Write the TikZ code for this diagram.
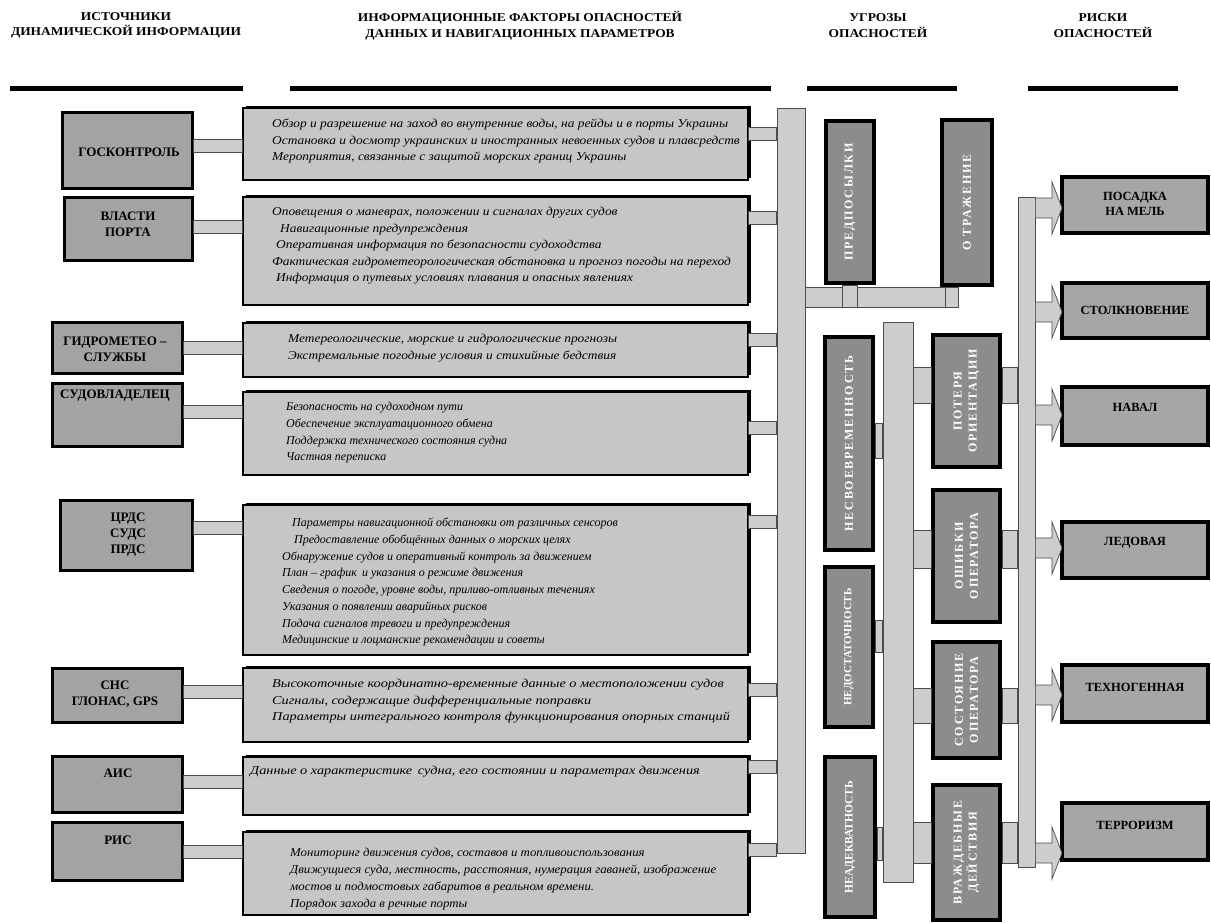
\documentclass[tikz,border=0pt]{standalone}
\usepackage{fontspec}
\setmainfont{Liberation Serif}
\newfontfamily\hdrfont{Liberation Serif}[FakeStretch=1.12]
\newfontfamily\midfont{Liberation Serif}[FakeStretch=1.115]
\newfontfamily\midfontn{Liberation Serif}[FakeStretch=1.0]
\newfontfamily\midfontm{Liberation Serif}[FakeStretch=1.07]
\newfontfamily\midfontw{Liberation Serif}[FakeStretch=1.19]
\newfontfamily\thrfont{Liberation Serif}[LetterSpace=15]
\usetikzlibrary{calc,shadows}
\definecolor{srcgray}{HTML}{A3A3A3}
\definecolor{midgray}{HTML}{C6C6C6}
\definecolor{pipegray}{HTML}{CDCDCD}
\definecolor{thrgray}{HTML}{8C8C8C}
\definecolor{riskgray}{HTML}{A6A6A6}
\begin{document}
\begin{tikzpicture}[x=1pt,y=-1pt,
  hdrline/.style={line width=5pt,black},
  hdrtext/.style={font=\hdrfont\bfseries\fontsize{12}{15.5}\selectfont,align=center,inner sep=0},
  srcbox/.style={draw=black,line width=3pt,fill=srcgray,inner sep=0},
  midbox/.style={draw=black,line width=1.5pt,fill=midgray,inner sep=0,
    drop shadow={shadow xshift=2.5pt,shadow yshift=2.5pt,opacity=1,fill=black}},
  thrbox/.style={draw=black,line width=4pt,fill=thrgray,inner sep=0},
  riskbox/.style={draw=black,line width=3.5pt,fill=riskgray,inner sep=0},
  pipe/.style={fill=pipegray,draw=black!70,line width=0.7pt},
  srclabel/.style={font=\bfseries\fontsize{13}{16}\selectfont,align=center,inner sep=0},
  midtext/.style={font=\midfont\itshape\fontsize{12}{16.5}\selectfont,align=left,anchor=north west,inner sep=0},
  thrtext/.style={font=\thrfont\bfseries\fontsize{12}{15}\selectfont,text=white,rotate=90,align=center,inner sep=0},
  risktext/.style={font=\bfseries\fontsize{12.5}{15}\selectfont,align=center,inner sep=0}
]
\useasboundingbox[fill=white] (0,0) rectangle (1211,922);

% ---------- headers ----------
\node[hdrtext] (h1) at (126,25.5) {ИСТОЧНИКИ\\ДИНАМИЧЕСКОЙ ИНФОРМАЦИИ};
\node[hdrtext] (h2) at (520,25.5) {ИНФОРМАЦИОННЫЕ ФАКТОРЫ ОПАСНОСТЕЙ\\ДАННЫХ И НАВИГАЦИОННЫХ ПАРАМЕТРОВ};
\node[hdrtext] (h3) at (878,25.5) {УГРОЗЫ\\ОПАСНОСТЕЙ};
\node[hdrtext] (h4) at (1103,25.5) {РИСКИ\\ОПАСНОСТЕЙ};
\draw[hdrline] (10,88) -- (243,88);
\draw[hdrline] (290,88) -- (771,88);
\draw[hdrline] (807,88) -- (957,88);
\draw[hdrline] (1028,88) -- (1178,88);

% ---------- buses (drawn first) ----------
\node[pipe,minimum width=28,minimum height=745,inner sep=0] (bus) at (791,480.5) {};
\node[pipe,minimum width=30,minimum height=560,inner sep=0] (mbus) at (898,602) {};
\node[pipe,minimum width=17,minimum height=670,inner sep=0] (rbus) at (1026.5,532) {};

% ---------- source boxes ----------
\node[srcbox,minimum width=130,minimum height=76] (s1) at (127,150) {};
\node[srcbox,minimum width=128,minimum height=63] (s2) at (128,228.5) {};
\node[srcbox,minimum width=130,minimum height=51] (s3) at (117,347.5) {};
\node[srcbox,minimum width=130,minimum height=63] (s4) at (117,414.5) {};
\node[srcbox,minimum width=132,minimum height=70] (s5) at (126,535) {};
\node[srcbox,minimum width=130,minimum height=54] (s6) at (117,695) {};
\node[srcbox,minimum width=130,minimum height=56] (s7) at (117,784) {};
\node[srcbox,minimum width=130,minimum height=58] (s8) at (117,851) {};

\node[srclabel] (l1) at (129,152) {ГОСКОНТРОЛЬ};
\node[srclabel] (l2) at (128,224) {ВЛАСТИ\\ПОРТА};
\node[srclabel] (l3) at (115,349) {ГИДРОМЕТЕО –\\СЛУЖБЫ};
\node[srclabel] (l4) at (115,396) {СУДОВЛАДЕЛЕЦ};
\node[srclabel] (l5) at (128,535) {ЦРДС\\СУДС\\ПРДС};
\node[srclabel] (l6) at (115,694) {СНС\\ГЛОНАС, GPS};
\node[srclabel] (l7) at (118,773) {АИС};
\node[srclabel] (l8) at (118,840) {РИС};

% ---------- middle boxes ----------
\node[midbox,minimum width=505,minimum height=72] (m1) at (495.5,144) {};
\node[midbox,minimum width=505,minimum height=108] (m2) at (495.5,251) {};
\node[midbox,minimum width=505,minimum height=54] (m3) at (495.5,350) {};
\node[midbox,minimum width=505,minimum height=83] (m4) at (495.5,433.5) {};
\node[midbox,minimum width=505,minimum height=150] (m5) at (495.5,580) {};
\node[midbox,minimum width=505,minimum height=74] (m6) at (495.5,705) {};
\node[midbox,minimum width=505,minimum height=58] (m7) at (495.5,786) {};
\node[midbox,minimum width=505,minimum height=83] (m8) at (495.5,873.5) {};

\node[midtext] (t1) at (272,119) {Обзор и разрешение на заход во внутренние воды, на рейды и в порты Украины\\
Остановка и досмотр украинских и иностранных невоенных судов и плавсредств\\
Мероприятия, связанные с защитой морских границ Украины};
\node[midtext] (t2) at (272,207) {Оповещения о маневрах, положении и сигналах других судов\\
\hspace*{8pt}Навигационные предупреждения\\
\hspace*{4pt}Оперативная информация по безопасности судоходства\\
Фактическая гидрометеорологическая обстановка и прогноз погоды на переход\\
\hspace*{4pt}Информация о путевых условиях плавания и опасных явлениях};
\node[midtext] (t3) at (288,334) {Метереологические, морские и гидрологические прогнозы\\
Экстремальные погодные условия и стихийные бедствия};
\node[midtext,font=\midfontn\itshape\fontsize{12}{16.8}\selectfont] (t4) at (286,402) {Безопасность на судоходном пути\\
Обеспечение эксплуатационного обмена\\
Поддержка технического состояния судна\\
Частная переписка};
\node[midtext,font=\midfontn\itshape\fontsize{12}{16.7}\selectfont] (t5) at (282,518) {\hspace*{10pt}Параметры навигационной обстановки от различных сенсоров\\
\hspace*{12pt}Предоставление обобщённых данных о морских целях\\
Обнаружение судов и оперативный контроль за движением\\
План – график\, и указания о режиме движения\\
Сведения о погоде, уровне воды, приливо-отливных течениях\\
Указания о появлении аварийных рисков\\
Подача сигналов тревоги и предупреждения\\
Медицинские и лоцманские рекомендации и советы};
\node[midtext,font=\midfontw\itshape\fontsize{12}{16.5}\selectfont] (t6) at (272,679) {Высокоточные координатно-временные данные о местоположении судов\\
Сигналы, содержащие дифференциальные поправки\\
Параметры интегрального контроля функционирования опорных станций};
\node[midtext,font=\midfontw\itshape\fontsize{12}{16.5}\selectfont] (t7) at (250,766) {Данные о характеристике\, судна, его состоянии и параметрах движения};
\node[midtext,font=\midfontm\itshape\fontsize{12}{17}\selectfont] (t8) at (290,848) {Мониторинг движения судов, составов и топливоиспользования\\
Движущиеся суда, местность, расстояния, нумерация гаваней, изображение\\
мостов и подмостовых габаритов в реальном времени.\\
Порядок захода в речные порты};

% ---------- source -> middle connectors ----------
\draw[pipe] (s1.east |- 0,139.5) rectangle (m1.west |- 0,152.5);
\draw[pipe] (s2.east |- 0,220.5) rectangle (m2.west |- 0,233.5);
\draw[pipe] (s3.east |- 0,341.5) rectangle (m3.west |- 0,354.5);
\draw[pipe] (s4.east |- 0,405.5) rectangle (m4.west |- 0,418.5);
\draw[pipe] (s5.east |- 0,521.5) rectangle (m5.west |- 0,534.5);
\draw[pipe] (s6.east |- 0,685.5) rectangle (m6.west |- 0,698.5);
\draw[pipe] (s7.east |- 0,775.5) rectangle (m7.west |- 0,788.5);
\draw[pipe] (s8.east |- 0,845.5) rectangle (m8.west |- 0,858.5);

% ---------- middle -> bus connectors ----------
\draw[pipe] (m1.east |- 0,127.5) rectangle (bus.west |- 0,140.5);
\draw[pipe] (m2.east |- 0,211.5) rectangle (bus.west |- 0,224.5);
\draw[pipe] (m3.east |- 0,333.5) rectangle (bus.west |- 0,346.5);
\draw[pipe] (m4.east |- 0,421.5) rectangle (bus.west |- 0,434.5);
\draw[pipe] (m5.east |- 0,515.5) rectangle (bus.west |- 0,528.5);
\draw[pipe] (m6.east |- 0,683.5) rectangle (bus.west |- 0,696.5);
\draw[pipe] (m7.east |- 0,760.5) rectangle (bus.west |- 0,773.5);
\draw[pipe] (m8.east |- 0,843.5) rectangle (bus.west |- 0,856.5);

% ---------- threat boxes ----------
\node[thrbox,minimum width=48,minimum height=162] (pred) at (850,202) {};
\node[thrbox,minimum width=50,minimum height=165] (otr) at (967,202.5) {};
\node[thrbox,minimum width=48,minimum height=213] (nesv) at (849,443.5) {};
\node[thrbox,minimum width=48,minimum height=160] (nedo) at (849,647) {};
\node[thrbox,minimum width=50,minimum height=160] (nead) at (850,837) {};
\node[thrbox,minimum width=67,minimum height=132] (pot) at (966.5,401) {};
\node[thrbox,minimum width=67,minimum height=132] (osh) at (966.5,556) {};
\node[thrbox,minimum width=67,minimum height=116] (sos) at (966.5,700) {};
\node[thrbox,minimum width=67,minimum height=135] (vra) at (966.5,852.5) {};

\node[thrtext] (tp) at (pred) {ПРЕДПОСЫЛКИ};
\node[thrtext] (to) at (otr) {О ТРАЖЕНИЕ};
\node[thrtext] (tn) at (nesv) {НЕСВОЕВРЕМЕННОСТЬ};
\node[thrtext,font=\bfseries\fontsize{11}{14}\selectfont] (td) at (nedo) {НЕДОСТАТОЧНОСТЬ};
\node[thrtext,font=\bfseries\fontsize{11.5}{14}\selectfont] (ta) at (nead) {НЕАДЕКВАТНОСТЬ};
\node[thrtext] (tpo) at (pot) {ПОТЕРЯ\\ОРИЕНТАЦИИ};
\node[thrtext] (tos) at (osh) {ОШИБКИ\\ОПЕРАТОРА};
\node[thrtext] (tso) at (sos) {СОСТОЯНИЕ\\ОПЕРАТОРА};
\node[thrtext] (tvr) at (vra) {ВРАЖДЕБНЫЕ\\ДЕЙСТВИЯ};

% ---------- threat connectors ----------
\draw[pipe] (bus.east |- 0,307) rectangle (otr.south -| 958,322);
\draw[pipe] (pred.south -| 842,0) rectangle (857,307);
\draw[pipe] (otr.south -| 945,0) rectangle (958,307);
\draw[pipe] (nesv.east |- 0,423) rectangle (mbus.west |- 0,458);
\draw[pipe] (nedo.east |- 0,620) rectangle (mbus.west |- 0,652);
\draw[pipe] (nead.east |- 0,827) rectangle (mbus.west |- 0,860);
\draw[pipe] (mbus.east |- 0,367) rectangle (pot.west |- 0,403);
\draw[pipe] (pot.east |- 0,367) rectangle (rbus.west |- 0,403);
\draw[pipe] (mbus.east |- 0,530) rectangle (osh.west |- 0,568);
\draw[pipe] (osh.east |- 0,530) rectangle (rbus.west |- 0,568);
\draw[pipe] (mbus.east |- 0,688) rectangle (sos.west |- 0,723);
\draw[pipe] (sos.east |- 0,688) rectangle (rbus.west |- 0,723);
\draw[pipe] (mbus.east |- 0,822) rectangle (vra.west |- 0,863);
\draw[pipe] (vra.east |- 0,822) rectangle (rbus.west |- 0,863);

% ---------- risk boxes ----------
\node[riskbox,minimum width=146,minimum height=56] (r1) at (1135,205) {};
\node[riskbox,minimum width=146,minimum height=55] (r2) at (1135,310.5) {};
\node[riskbox,minimum width=146,minimum height=58] (r3) at (1135,416) {};
\node[riskbox,minimum width=146,minimum height=56] (r4) at (1135,550) {};
\node[riskbox,minimum width=146,minimum height=57] (r5) at (1135,693.5) {};
\node[riskbox,minimum width=146,minimum height=57] (r6) at (1135,831.5) {};

\node[risktext] (rt1) at (1135,204) {ПОСАДКА\\НА МЕЛЬ};
\node[risktext] (rt2) at (1135,310) {СТОЛКНОВЕНИЕ};
\node[risktext] (rt3) at (1135,407) {НАВАЛ};
\node[risktext] (rt4) at (1135,543) {ЛЕДОВАЯ};
\node[risktext] (rt5) at (1135,687) {ТЕХНОГЕННАЯ};
\node[risktext] (rt6) at (1135,825) {ТЕРРОРИЗМ};

% ---------- block arrows ----------
\coordinate (a1) at (1062,208);
\coordinate (a2) at (1062,312);
\coordinate (a3) at (1062,415);
\coordinate (a4) at (1062,548);
\coordinate (a5) at (1062,695);
\coordinate (a6) at (1062,853);
\foreach \a in {a1,a2,a3,a4,a5,a6}{
  \draw[pipe] ($(rbus.east |- \a)+(0,-10)$) -- ($(\a)+(-10,-10)$) -- ($(\a)+(-10,-26)$)
    -- (\a) -- ($(\a)+(-10,26)$) -- ($(\a)+(-10,10)$) -- ($(rbus.east |- \a)+(0,10)$) -- cycle;
}
\end{tikzpicture}
\end{document}
